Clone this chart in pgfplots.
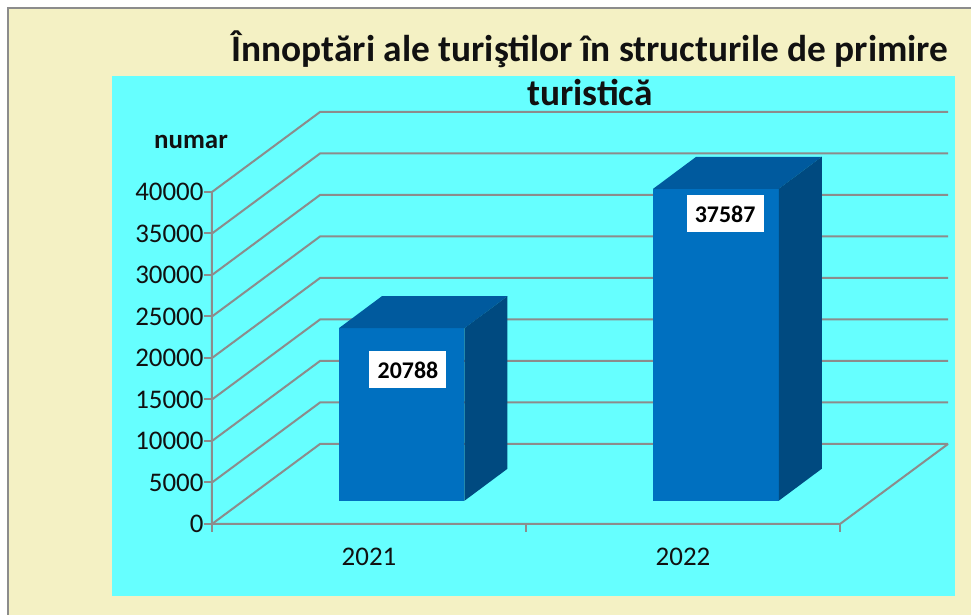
\documentclass[border=0pt]{standalone}
\usepackage{pgfplots}
\pgfplotsset{compat=1.18}
\usepackage{pgfplotstable}
\usepackage{fontspec}
\setmainfont{Carlito}
\definecolor{bgyellow}{HTML}{F4F1C4}
\definecolor{plotcyan}{HTML}{66FFFF}
\definecolor{gridgray}{HTML}{8C8C8C}
\definecolor{barfront}{HTML}{0070C0}
\definecolor{bartop}{HTML}{005A9E}
\definecolor{barside}{HTML}{004A80}
\definecolor{txt}{HTML}{111111}

% face templates: dx, dy (depth offset), t (1 = top of bar)
\pgfplotstableread{
dx dy t
0 0 0
0.4 0 0
0.4 0 1
0 0 1
}\frontface
\pgfplotstableread{
dx dy t
0 0 1
0.4 0 1
0.537 3855 1
0.137 3855 1
}\topface
\pgfplotstableread{
dx dy t
0.4 0 0
0.537 3855 0
0.537 3855 1
0.4 0 1
}\sideface

\begin{document}
\begin{tikzpicture}[x=1bp,y=1bp]
% backgrounds
\fill[white] (-212,-91) rectangle (759,524);
\fill[bgyellow] (-204,-91) rectangle (759,516);
\draw[gridgray,line width=1.5bp] (-204,-91) -- (-204,516) -- (759,516);
\fill[plotcyan] (-100,-72) rectangle (743,448);
% title
\node[font=\fontsize{37.5}{44}\selectfont\bfseries, text=txt, align=center] at (378,456)
  {Înnoptări ale turiştilor în structurile de primire\\turistică};
\node[font=\fontsize{27}{30}\selectfont\bfseries, text=txt] at (-21,382) {numar};

\begin{axis}[
  at={(0,0)}, anchor=south west,
  scale only axis, width=736bp, height=412bp,
  xmin=0, xmax=2.344, ymin=0, ymax=49639,
  clip=false,
  axis lines=left,
  axis line style={draw=none,-},
  ytick={0,5000,...,40000},
  xtick={0,1,2},
  xticklabels={},
  extra x ticks={0.5,1.5},
  extra x tick labels={2021,2022},
  extra x tick style={major tick length=0pt, tick label style={yshift=-21bp}},
  tick align=outside,
  major tick length=8bp,
  tick style={gridgray, line width=2bp},
  /pgf/number format/assume math mode=true,
  /pgf/number format/1000 sep={},
  scaled y ticks=false,
  ticklabel style={font=\fontsize{27}{30}\selectfont, text=txt},
  yticklabel style={xshift=3bp},
]
% walls / grid
\addplot[gridgray, line width=2bp] coordinates {(0,0) (0.344,9639) (2.344,9639)};
\addplot[gridgray, line width=2bp] coordinates {(0,5000) (0.344,14639) (2.344,14639)};
\addplot[gridgray, line width=2bp] coordinates {(0,10000) (0.344,19639) (2.344,19639)};
\addplot[gridgray, line width=2bp] coordinates {(0,15000) (0.344,24639) (2.344,24639)};
\addplot[gridgray, line width=2bp] coordinates {(0,20000) (0.344,29639) (2.344,29639)};
\addplot[gridgray, line width=2bp] coordinates {(0,25000) (0.344,34639) (2.344,34639)};
\addplot[gridgray, line width=2bp] coordinates {(0,30000) (0.344,39639) (2.344,39639)};
\addplot[gridgray, line width=2bp] coordinates {(0,35000) (0.344,44639) (2.344,44639)};
\addplot[gridgray, line width=2bp] coordinates {(0,40000) (0.344,49639) (2.344,49639)};
\addplot[gridgray, line width=2bp] coordinates {(0,40000) (0,0) (2,0) (2.344,9639)};

% bar 2021 = 20788
\addplot[fill=barfront, draw=none] table[x expr=\thisrow{dx}+0.404, y expr=\thisrow{dy}+2800+\thisrow{t}*20788]{\frontface} -- cycle;
\addplot[fill=bartop, draw=none] table[x expr=\thisrow{dx}+0.404, y expr=\thisrow{dy}+2800+\thisrow{t}*20788]{\topface} -- cycle;
\addplot[fill=barside, draw=none] table[x expr=\thisrow{dx}+0.404, y expr=\thisrow{dy}+2800+\thisrow{t}*20788]{\sideface} -- cycle;
% bar 2022 = 37587
\addplot[fill=barfront, draw=none] table[x expr=\thisrow{dx}+1.405, y expr=\thisrow{dy}+2800+\thisrow{t}*37587]{\frontface} -- cycle;
\addplot[fill=bartop, draw=none] table[x expr=\thisrow{dx}+1.405, y expr=\thisrow{dy}+2800+\thisrow{t}*37587]{\topface} -- cycle;
\addplot[fill=barside, draw=none] table[x expr=\thisrow{dx}+1.405, y expr=\thisrow{dy}+2800+\thisrow{t}*37587]{\sideface} -- cycle;

% value labels
\addplot[draw=none, mark=none, nodes near coords, point meta=explicit symbolic,
  every node near coord/.append style={anchor=center, fill=white, text=black,
  font=\fontsize{24}{28}\selectfont\bfseries, minimum width=77bp, minimum height=37bp, inner sep=0pt}]
  coordinates {(0.624,18554) [20788] (1.634,37349) [37587]};
\end{axis}
\pgfresetboundingbox
\path[use as bounding box] (-212,-91) rectangle (759,524);
\end{tikzpicture}
\end{document}
